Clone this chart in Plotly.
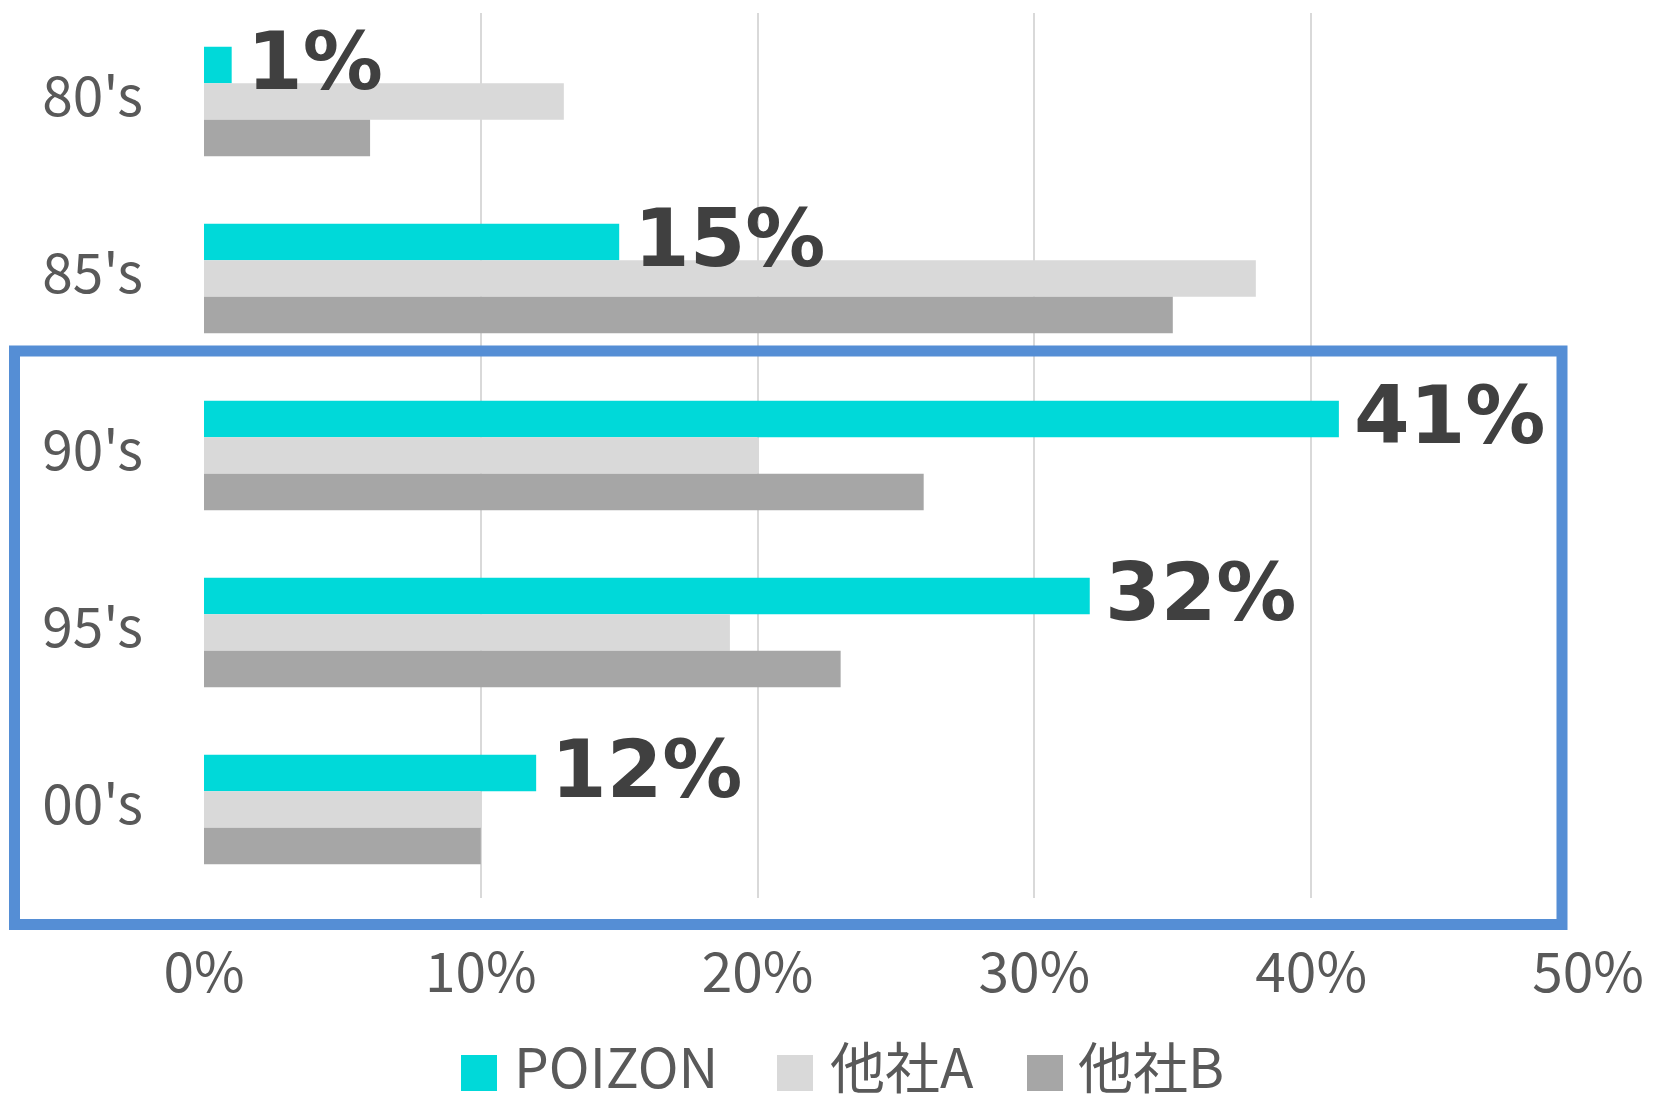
import plotly.graph_objects as go

categories = ["80's", "85's", "90's", "95's", "00's"]
series_names = ["POIZON", "他社A", "他社B"]
poizon = [1, 15, 41, 32, 12]
other_a = [13, 38, 20, 19, 10]
other_b = [6, 35, 26, 23, 10]
x_ticks = [0, 10, 20, 30, 40, 50]
x_tick_labels = ["0%", "10%", "20%", "30%", "40%", "50%"]

colors = ["#00D9D9", "#D9D9D9", "#A6A6A6"]
values = [poizon, other_a, other_b]

W, H = 1656, 1094
L, R, T, B = 204, 68, 13, 196
PW, PH = W - L - R, H - T - B

def px_x(x):
    return (x - L) / PW

def px_y(y):
    return (H - B - y) / PH

tick_font = dict(family="Noto Sans CJK JP", size=55, color="#595959")

fig = go.Figure()
for name, vals, col in zip(series_names, values, colors):
    fig.add_trace(go.Bar(
        y=categories, x=vals, name=name, orientation="h",
        marker=dict(color=col, line=dict(width=0)),
        showlegend=False,
    ))

annotations = []
for cat, v in zip(categories, poizon):
    annotations.append(dict(
        x=v, y=cat, xref="x", yref="y", text=f"{v}%", showarrow=False,
        xanchor="left", yanchor="middle", xshift=13, yshift=40,
        font=dict(family="DejaVu Sans", size=80, color="#404040", weight="bold"),
    ))

# manual legend
legend_sq_x = [461, 777, 1027]
legend_txt_x = [512, 828, 1076]
shapes = []
for name, col, sx, tx in zip(series_names, colors, legend_sq_x, legend_txt_x):
    shapes.append(dict(type="rect", xref="paper", yref="paper",
                       x0=px_x(sx), x1=px_x(sx + 36), y0=px_y(1091), y1=px_y(1055),
                       fillcolor=col, line=dict(width=0), layer="above"))
    annotations.append(dict(x=px_x(tx), y=px_y(1064), xref="paper", yref="paper",
                            text=name, showarrow=False, xanchor="left", yanchor="middle",
                            font=tick_font))

# blue highlight box
shapes.append(dict(type="rect", xref="paper", yref="paper",
                   x0=px_x(14.5), x1=px_x(1562), y0=px_y(924.5), y1=px_y(351),
                   line=dict(color="#558ED5", width=11), fillcolor="rgba(0,0,0,0)",
                   layer="above"))

fig.update_layout(
    width=W, height=H,
    margin=dict(l=L, r=R, t=T, b=B, pad=0),
    paper_bgcolor="white", plot_bgcolor="white",
    barmode="group", bargap=0.38, bargroupgap=0,
    annotations=annotations, shapes=shapes,
    showlegend=False,
    xaxis=dict(range=[0, 50], tickvals=x_ticks, ticktext=x_tick_labels,
               showgrid=True, gridcolor="#D9D9D9", gridwidth=1.5,
               zeroline=False, showline=False, tickfont=tick_font,
               ticks="", ticklabelstandoff=38, fixedrange=True),
    yaxis=dict(categoryorder="array", categoryarray=categories,
               autorange="reversed", showgrid=False, zeroline=False,
               showline=False, tickfont=tick_font, ticks="",
               ticklabelstandoff=60, ticklabelshift=5),
)

fig.write_html("out.html")
